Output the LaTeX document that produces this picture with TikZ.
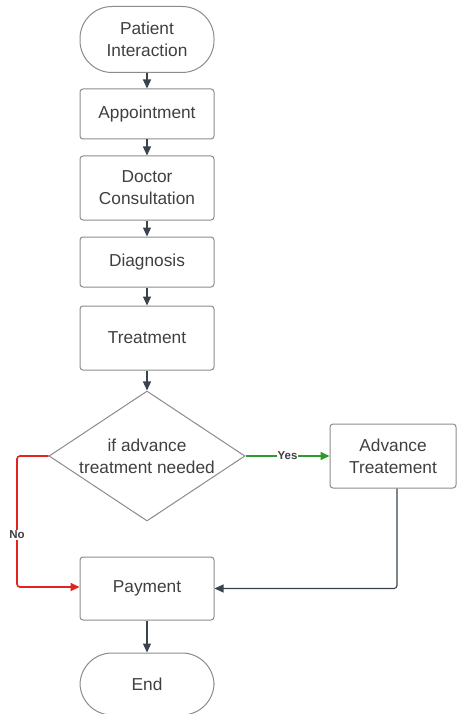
\documentclass[tikz,border=0pt]{standalone}
\usepackage{fontspec}
\setmainfont{Liberation Sans}
\usetikzlibrary{shapes.geometric,arrows.meta}
\definecolor{txt}{HTML}{404040}
\definecolor{brd}{HTML}{8C8C8C}
\definecolor{arr}{HTML}{3A434D}
\definecolor{nored}{HTML}{E32222}
\definecolor{yesgreen}{HTML}{2E9A2E}
\tikzset{
  base/.style={draw=brd, line width=1pt, text=txt, font=\fontsize{17.3}{22}\selectfont, align=center, inner sep=0pt},
  procbox/.style={base, rectangle, rounded corners=3pt, minimum width=134pt},
  termbox/.style={base, rectangle, rounded corners=32pt, minimum width=134pt, minimum height=66pt},
  decbox/.style={base, diamond, aspect=1.5077, minimum width=196pt, minimum height=130pt},
  conn/.style={draw=arr, line width=1.1pt, -{Triangle[length=9pt,width=8pt]}},
  lbl/.style={fill=white, inner sep=1pt, text=txt, font=\bfseries\fontsize{11.5}{13}\selectfont}
}
\begin{document}
\begin{tikzpicture}[x=1pt,y=-1pt]
\path[use as bounding box, fill=white] (0,0) rectangle (456,714);
\node[termbox] (pi) at (147,39.5) {Patient\\Interaction};
\node[procbox, minimum height=50pt] (ap) at (147,114) {Appointment};
\node[procbox, minimum height=64pt] (dc) at (147,188) {Doctor\\Consultation};
\node[procbox, minimum height=50pt] (dg) at (147,262) {Diagnosis};
\node[procbox, minimum height=64pt] (tr) at (147,338) {Treatment};
\node[decbox] (dec) at (147,456) {if advance\\treatment needed};
\node[procbox, minimum width=126pt, minimum height=64pt] (adv) at (393,456) {Advance\\Treatement};
\node[procbox, minimum height=63pt] (pay) at (147,588.5) {Payment};
\node[termbox, minimum height=62pt] (end) at (147,684) {End};
\coordinate (nocorner1) at (17,456);
\coordinate (nocorner2) at (17,587);
\coordinate (advcorner) at (397,588.5);
\draw[conn] (pi) -- (ap);
\draw[conn] (ap) -- (dc);
\draw[conn] (dc) -- (dg);
\draw[conn] (dg) -- (tr);
\draw[conn] (tr) -- (dec);
\draw[conn, line width=1.6pt, draw=yesgreen, -{Triangle[length=9pt,width=8pt,fill=yesgreen]}] (dec.east) -- node[lbl] {Yes} (adv.west);
\draw[conn, line width=1.6pt, draw=nored, rounded corners=3pt, -{Triangle[length=9pt,width=8pt,fill=nored]}] (dec.west) -- (nocorner1) -- (nocorner2) -- (pay.west|-nocorner2);
\node[lbl] (nolbl) at (17,535) {No};
\draw[conn, rounded corners=3pt] (adv.south-|advcorner) -- (advcorner) -- (pay.east|-advcorner);
\draw[conn] (pay) -- (end);
\end{tikzpicture}
\end{document}
